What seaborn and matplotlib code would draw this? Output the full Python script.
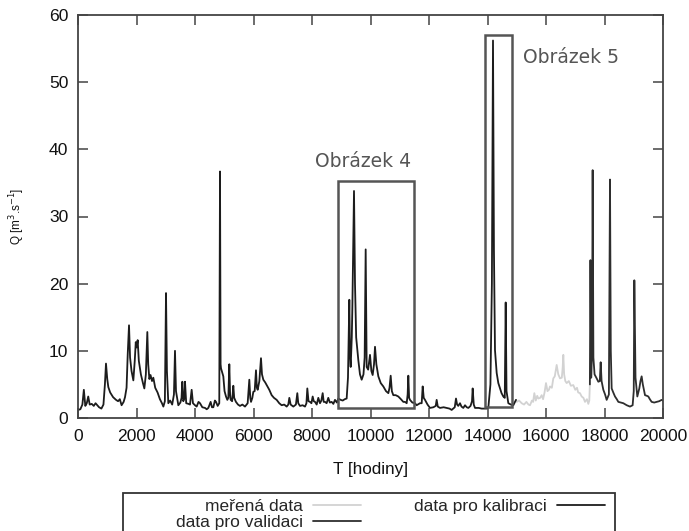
import matplotlib
matplotlib.use("Agg")
import matplotlib.pyplot as plt
from matplotlib.patches import Rectangle
import seaborn as sns
import pandas as pd

# ---------------- data ----------------
cal_T = [0, 80, 150, 200, 250, 300, 350, 400, 470, 540, 600, 660, 720, 800, 870, 920, 957, 1000, 1037,
         1100, 1200, 1300, 1370, 1430, 1490, 1560, 1607, 1660, 1700, 1744, 1780, 1830, 1892, 1940, 1975,
         2006, 2040, 2080, 2150, 2220, 2268, 2320, 2370, 2400, 2440, 2480, 2530, 2575, 2640, 2720, 2800,
         2870, 2918, 2970, 3009, 3040, 3088, 3150, 3220, 3280, 3316, 3350, 3430, 3500, 3540, 3567, 3600,
         3640, 3658, 3700, 3780, 3829, 3886, 3930, 4000, 4057, 4120, 4171, 4250, 4342, 4400, 4456, 4535,
         4580, 4627, 4680, 4718, 4775, 4830, 4855, 4875, 4889, 4930, 4968, 5010, 5060, 5105, 5140, 5173,
         5200, 5220, 5270, 5310, 5340, 5400, 5470, 5538, 5620, 5709, 5800, 5857, 5890, 5915, 5960, 5994,
         6040, 6085, 6115, 6143, 6200, 6256, 6290, 6336, 6400, 6450, 6540, 6621, 6700, 6792, 6880, 6963,
         7050, 7134, 7190, 7225, 7270, 7361, 7450, 7498, 7530, 7590, 7680, 7761, 7810, 7840, 7880, 7932,
         7980, 8023, 8060, 8103, 8160, 8216, 8273, 8320, 8365, 8400, 8444, 8500, 8557, 8610, 8672, 8730,
         8786, 8850, 8900, 8980, 9050, 9120, 9185, 9230, 9276, 9300, 9322, 9360, 9380, 9436, 9470, 9510,
         9584, 9640, 9698, 9760, 9800, 9835, 9869, 9920, 9983, 10030, 10074, 10120, 10154, 10200, 10268,
         10350, 10438, 10530, 10610, 10650, 10690, 10730, 10780, 10860, 10951, 11040, 11122, 11180, 11237,
         11270, 11293, 11320, 11350, 11430, 11521, 11578, 11692, 11750, 11784, 11820, 11863, 11950, 12034,
         12150, 12230, 12262, 12300, 12376, 12500, 12604, 12700, 12775, 12880, 12923, 12960, 13000, 13060,
         13110, 13173, 13231, 13290, 13345, 13420, 13470, 13493, 13530, 13573, 13700, 13800, 13900, 13972,
         14030, 14100, 14150, 14188, 14220, 14256, 14314, 14370, 14427, 14480, 14541, 14590, 14622, 14650,
         14712, 14800, 14883, 14930, 14974]
cal_Q = [1.2, 1.3, 2.0, 4.2, 1.8, 2.2, 3.2, 2.0, 2.1, 1.8, 2.2, 1.9, 1.6, 1.4, 2.0, 5.0, 8.1, 5.8, 4.6,
         3.8, 3.1, 2.7, 2.5, 2.8, 1.9, 2.4, 3.1, 4.5, 9.5, 13.8, 9.0, 7.0, 5.6, 8.5, 11.3,
         10.5, 11.6, 8.5, 6.5, 5.2, 4.4, 6.5, 12.8, 8.0, 5.8, 6.4, 5.5, 6.0, 4.5, 3.8, 2.8,
         2.2, 1.7, 2.5, 18.6, 7.0, 2.2, 2.6, 2.0, 3.5, 10.0, 4.0, 1.9, 2.3, 3.0, 5.4, 2.5,
         3.0, 5.4, 2.2, 2.1, 2.0, 4.2, 2.2, 1.9, 1.7, 2.4, 2.2, 1.6, 1.5, 1.3, 1.5, 2.4,
         1.6, 1.6, 2.6, 2.4, 1.8, 2.2, 36.7, 8.0, 7.4, 6.8, 6.2, 4.0, 3.2, 2.7, 3.0, 8.0,
         3.5, 2.7, 2.5, 4.8, 3.0, 2.4, 2.0, 1.8, 2.0, 1.7, 2.2, 5.7, 3.0, 2.4, 3.0, 3.9,
         4.0, 7.1, 4.5, 4.2, 5.5, 8.9, 6.5, 5.7, 5.3, 4.9, 4.2, 3.4, 3.0, 2.7, 2.2, 1.9,
         2.0, 1.7, 2.0, 3.0, 2.0, 1.7, 2.0, 3.7, 2.2, 1.8, 1.9, 1.7, 2.2, 4.4, 2.5, 2.4,
         2.2, 3.2, 2.5, 2.4, 2.0, 3.0, 2.2, 2.6, 3.7, 2.4, 2.4, 2.2, 3.0, 2.3, 2.4, 2.1,
         2.7, 2.3, 2.9, 2.7, 2.6, 2.8, 2.9, 6.0, 17.6, 9.0, 7.6, 12.0, 16.5, 33.8, 20.0, 12.0,
         8.6, 6.5, 5.7, 6.5, 9.0, 25.1, 7.6, 7.2, 9.4, 7.0, 6.4, 8.0, 10.6, 8.0, 6.2,
         5.2, 4.7, 4.0, 3.7, 4.5, 6.3, 4.0, 3.4, 3.4, 3.2, 2.8, 2.4, 2.4, 2.2,
         3.5, 6.3, 3.0, 2.7, 2.3, 2.2, 1.9, 2.2, 2.2, 4.7, 3.0, 2.7, 2.0, 1.5,
         1.6, 1.8, 2.7, 1.7, 1.5, 1.6, 1.5, 1.4, 1.2, 1.6, 2.9, 2.0, 1.8, 2.2,
         1.7, 1.5, 1.9, 1.6, 1.5, 1.8, 2.5, 4.4, 2.0, 1.5, 1.5, 1.4, 1.4, 1.4,
         1.6, 5.0, 20.0, 56.2, 25.0, 10.1, 6.7, 5.2, 4.4, 3.7, 3.2, 3.0, 17.2, 4.0,
         2.2, 2.0, 1.9, 2.3, 2.7]

meas_T = [14974, 15000, 15080, 15168, 15250, 15330, 15400, 15453, 15520, 15560, 15601, 15650, 15700,
          15738, 15800, 15852, 15900, 15950, 16000, 16050, 16100, 16137, 16200, 16250, 16300, 16365,
          16420, 16479, 16540, 16570, 16592, 16620, 16660, 16707, 16780, 16850, 16934, 17000, 17060,
          17100, 17162, 17220, 17280, 17333, 17400, 17447, 17480, 17500]
meas_Q = [2.7, 2.4, 2.6, 2.2, 2.0, 2.4, 2.0, 1.9, 2.6, 2.4, 3.7, 2.6, 3.3,
          2.9, 3.0, 3.4, 2.8, 3.8, 5.2, 4.0, 4.2, 4.7, 4.5, 5.9, 6.2, 7.9,
          6.5, 5.9, 6.0, 7.5, 9.4, 6.5, 5.5, 5.2, 5.5, 4.8, 4.9, 4.2, 4.5,
          3.8, 3.7, 3.2, 3.0, 2.4, 2.8, 2.1, 2.6, 5.0]

val_T = [17500, 17520, 17545, 17575, 17595, 17620, 17660, 17732, 17789, 17840, 17869, 17900, 17960,
         18020, 18074, 18150, 18188, 18215, 18245, 18300, 18359, 18420, 18473, 18560, 18644, 18760,
         18872, 18962, 19000, 19020, 19060, 19122, 19190, 19230, 19270, 19310, 19385, 19450, 19498,
         19550, 19612, 19700, 19783, 19870, 19955, 20000]
val_Q = [5.0, 23.5, 6.0, 10.0, 36.9, 9.0, 6.5, 5.9, 5.4, 5.5, 8.3, 5.5, 4.2,
         3.5, 2.7, 3.5, 35.5, 10.0, 4.4, 3.8, 3.2, 2.8, 2.4, 2.3, 2.2, 1.9,
         1.7, 1.9, 4.0, 20.5, 6.0, 3.2, 4.4, 5.5, 6.2, 5.0, 3.4, 3.3, 3.2,
         2.8, 2.4, 2.3, 2.4, 2.5, 2.7, 2.6]

series_labels = ["meřená data", "data pro kalibraci", "data pro validaci"]

# zoom boxes (x0, x1, y0, y1) and their captions
box_x0 = [8900, 13900]
box_x1 = [11500, 14850]
box_y0 = [1.5, 1.6]
box_y1 = [35.3, 57.0]
box_names = ["Obrázek 4", "Obrázek 5"]
box_text_x = [9730, 16870]
box_text_y = [38.2, 53.7]

x_ticks = list(range(0, 20001, 2000))
y_ticks = list(range(0, 61, 10))

# ---------------- plotting ----------------
sns.set_style("ticks")
plt.rcParams["font.family"] = ["Liberation Sans", "DejaVu Sans"]

fig = plt.figure(figsize=(6.89, 5.31), dpi=100)
ax = fig.add_axes([78 / 689, 1 - 418 / 531, 585 / 689, 403 / 531])

df_meas = pd.DataFrame({"T": meas_T, "Q": meas_Q})
df_cal = pd.DataFrame({"T": cal_T, "Q": cal_Q})
df_val = pd.DataFrame({"T": val_T, "Q": val_Q})

sns.lineplot(data=df_meas, x="T", y="Q", ax=ax, color="#d2d2d2", lw=1.3,
             sort=False, estimator=None, label=series_labels[0], legend=False)
sns.lineplot(data=df_cal, x="T", y="Q", ax=ax, color="#1c1c1c", lw=1.3,
             sort=False, estimator=None, label=series_labels[1], legend=False)
sns.lineplot(data=df_val, x="T", y="Q", ax=ax, color="#2e2e2e", lw=1.3,
             sort=False, estimator=None, label=series_labels[2], legend=False)
if ax.get_legend() is not None:
    ax.get_legend().remove()

for x0, x1, y0, y1, name, tx, ty in zip(box_x0, box_x1, box_y0, box_y1, box_names, box_text_x, box_text_y):
    ax.add_patch(Rectangle((x0, y0), x1 - x0, y1 - y0, fill=False, ec="#555555", lw=1.8, zorder=3))
    ax.text(tx, ty, name, ha="center", va="center", fontsize=13.5, color="#555555",
            family=["DejaVu Sans"])

ax.set_xlim(0, 20000)
ax.set_ylim(0, 60)
ax.set_xticks(x_ticks)
ax.set_yticks(y_ticks)
ax.tick_params(direction="in", top=True, right=True, length=7, width=1.1, color="#444444",
               labelsize=12.6, labelcolor="#111111")
ax.tick_params(axis="x", pad=8)
ax.tick_params(axis="y", pad=7)
for sp in ax.spines.values():
    sp.set_color("#444444")
    sp.set_linewidth(1.3)

ax.set_xlabel("T [hodiny]", fontsize=12.3, labelpad=13, color="#111111")
ax.set_ylabel(r"Q [m$^{3}$.s$^{-1}$]", fontsize=8.5, color="#111111")
ax.yaxis.set_label_coords(-0.087, 0.5)

lines = ax.get_lines()
handles = [lines[0], lines[2], lines[1]]
labels = [series_labels[0], series_labels[2], series_labels[1]]
fig.legend(handles, labels, loc="upper right", bbox_to_anchor=(605 / 689, 1 - 499 / 531),
           ncols=2, markerfirst=False, frameon=False, borderpad=0, borderaxespad=0,
           handlelength=2.78, handletextpad=0.58, columnspacing=3.05, labelspacing=0.05,
           fontsize=12.5)
fig.add_artist(Rectangle((123 / 689, -0.1), (615 - 123) / 689, 0.1 + 1 - 493 / 531,
                         transform=fig.transFigure, fill=False, ec="#333333", lw=1.3))

fig.savefig("out.png", dpi=100)
